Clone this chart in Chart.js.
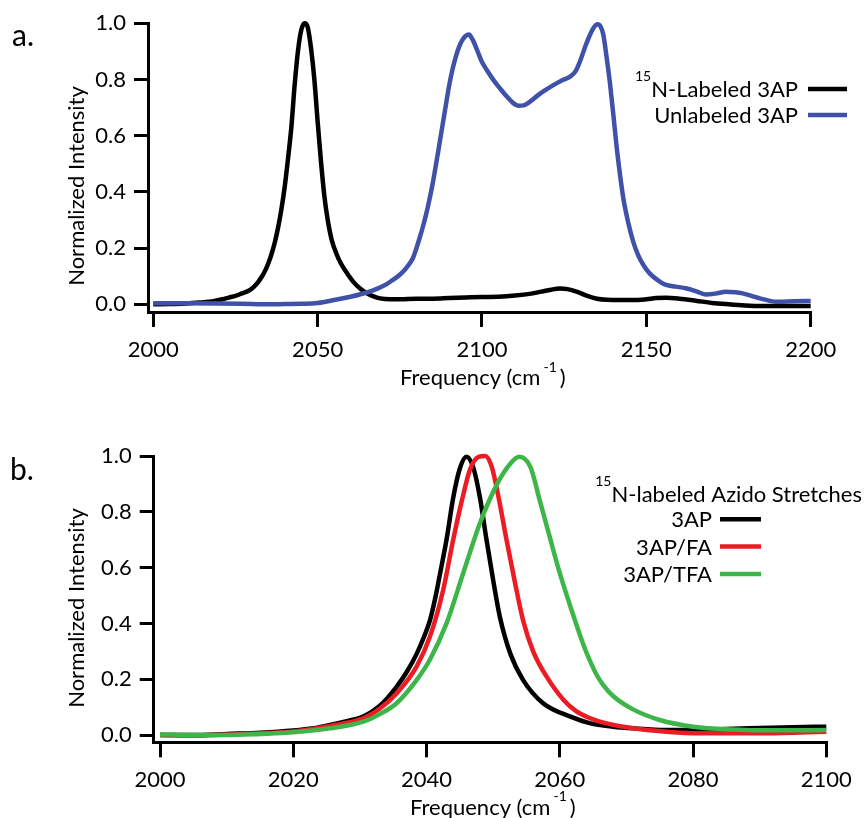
<!DOCTYPE html>
<html>
<head>
<meta charset="utf-8">
<script src="https://cdn.jsdelivr.net/npm/chart.js@4/dist/chart.umd.min.js"></script>
<style>
html, body { margin: 0; padding: 0; background: #ffffff; }
#wrap { position: relative; width: 866px; height: 818px; overflow: hidden; background: #ffffff; }
#wrap canvas { position: absolute; left: 0; }
#cA { top: 0; }
#cB { top: 400px; }
</style>
</head>
<body>
<div id="wrap">
  <canvas id="cA" width="866" height="400"></canvas>
  <canvas id="cB" width="866" height="418"></canvas>
</div>
<script>
// ---------------- Panel a data ----------------
const freqA_15N = [2000,2005,2010,2014,2017,2019,2021,2023,2025,2027,2029,2030,2031,2032,2033,2034,2035,2036,2037,2038,2039,2040,2041,2042,2043,2044,2045,2046,2047,2048,2049,2050,2051,2052,2053,2054.3,2056,2057,2059,2061,2063,2065,2067,2069,2072,2075,2080,2085,2090,2095,2100,2105,2110,2115,2118,2121,2123.7,2126,2129,2132,2135,2138,2142,2146,2150,2153,2156,2160,2165,2170,2175,2180,2185,2190,2200];
const intA_15N  = [0.000,0.001,0.003,0.006,0.009,0.013,0.018,0.024,0.030,0.039,0.048,0.056,0.067,0.081,0.098,0.119,0.146,0.180,0.222,0.275,0.340,0.420,0.520,0.630,0.780,0.900,0.975,1.000,0.985,0.910,0.800,0.650,0.510,0.390,0.305,0.228,0.172,0.147,0.110,0.078,0.055,0.039,0.028,0.021,0.018,0.018,0.020,0.020,0.022,0.024,0.026,0.027,0.031,0.038,0.045,0.052,0.056,0.054,0.044,0.030,0.020,0.016,0.015,0.015,0.018,0.022,0.023,0.020,0.013,0.005,0.000,-0.004,-0.006,-0.006,-0.006];

const freqA_unl = [2000,2010,2020,2030,2035,2040,2045,2050,2055,2060,2065,2068,2071,2073,2075,2077,2079,2080,2081,2082,2083,2084,2085,2086,2087,2088,2089,2090,2091,2092,2093,2094,2095,2096,2097,2098,2099,2100,2101.5,2103.5,2105.5,2107.5,2109.5,2111,2112.6,2114.5,2116.6,2119,2121.7,2124,2126.8,2128.5,2129.8,2131.5,2132.9,2134,2135.1,2136,2136.9,2137.9,2138.9,2140,2141,2142,2143,2144.5,2146,2147.5,2149.1,2151,2154.2,2156,2159,2162,2165,2168,2171,2174.2,2177,2179.3,2182,2184.5,2187,2189.5,2195,2200];
const intA_unl  = [0.004,0.004,0.003,0.001,0.000,0.001,0.002,0.005,0.015,0.027,0.042,0.055,0.072,0.088,0.105,0.130,0.165,0.198,0.235,0.275,0.320,0.372,0.430,0.497,0.567,0.638,0.708,0.778,0.835,0.880,0.915,0.940,0.955,0.960,0.945,0.920,0.890,0.862,0.833,0.798,0.768,0.740,0.716,0.707,0.708,0.720,0.740,0.760,0.780,0.795,0.810,0.830,0.864,0.920,0.960,0.985,0.997,0.990,0.960,0.880,0.790,0.670,0.556,0.460,0.377,0.290,0.223,0.175,0.140,0.110,0.080,0.069,0.063,0.057,0.047,0.035,0.038,0.045,0.043,0.039,0.030,0.021,0.014,0.009,0.011,0.012];

const namesA  = ['^{15}N-Labeled 3AP', 'Unlabeled 3AP'];
const xTicksA = [2000, 2050, 2100, 2150, 2200];

// ---------------- Panel b data ----------------
const freqB_3AP = [2000,2005,2010,2015,2020,2023,2025.5,2028,2030.5,2033,2035.5,2037,2038.5,2039.5,2040.5,2041.3,2042,2043,2044,2045,2046,2047,2048,2049,2050,2051,2052.6,2054.5,2057.5,2061.6,2064.6,2068,2071,2076,2080,2085,2090,2095,2100];
const intB_3AP  = [0.000,0.000,0.004,0.008,0.016,0.024,0.036,0.050,0.066,0.105,0.173,0.225,0.290,0.345,0.410,0.490,0.575,0.700,0.850,0.955,0.997,0.960,0.853,0.700,0.555,0.424,0.290,0.197,0.114,0.066,0.042,0.030,0.024,0.018,0.018,0.022,0.025,0.028,0.030];

const freqB_FA = [2000,2005,2010,2015,2020,2025.5,2030.5,2033,2035.5,2038.5,2040.5,2042.5,2044,2045.3,2046.5,2047.8,2048.8,2049.8,2050.8,2052,2053.3,2054.5,2056,2058,2060.6,2062.5,2064.6,2066,2071,2076,2081,2090,2095,2100];
const intB_FA  = [0.000,-0.002,0.002,0.006,0.013,0.033,0.060,0.095,0.149,0.245,0.352,0.520,0.700,0.840,0.950,0.997,1.000,0.960,0.853,0.700,0.543,0.410,0.300,0.210,0.125,0.085,0.060,0.048,0.024,0.012,0.006,0.006,0.008,0.012];

const freqB_TFA = [2000,2005,2010,2015,2020,2025.5,2030.5,2033,2035.5,2038.5,2040.5,2043,2045.5,2048,2050.6,2052.6,2053.9,2055.6,2057,2058.6,2060,2061.6,2063.6,2064.6,2065.5,2066.5,2068,2071,2075,2080,2086,2092,2100];
const intB_TFA  = [0.003,0.000,0.000,0.004,0.010,0.024,0.048,0.075,0.114,0.197,0.270,0.400,0.580,0.758,0.900,0.973,0.997,0.960,0.840,0.700,0.580,0.460,0.320,0.262,0.217,0.180,0.140,0.092,0.054,0.030,0.020,0.017,0.018];

const namesB       = ['3AP', '3AP/FA', '3AP/TFA'];
const legendTitleB = '^{15}N-labeled Azido Stretches';
const xTicksB      = [2000, 2020, 2040, 2060, 2080, 2100];

// ---------------- shared ----------------
const yTicks = [0, 0.2, 0.4, 0.6, 0.8, 1.0];
const yTitle = 'Normalized Intensity';
const xTitle = 'Frequency (cm^{-1})';

const FONT = "Lato, 'Open Sans', sans-serif";
const COLORS = { black: '#000000', blue: '#3f51a8', red: '#ec1c24', green: '#3db549' };

function pts(xs, ys) { return xs.map((x, i) => ({ x: x, y: ys[i] })); }

function parseRich(s) {
  const out = []; const re = /\^\{([^}]*)\}/g; let last = 0, m;
  while ((m = re.exec(s))) {
    if (m.index > last) out.push({ t: s.slice(last, m.index), sup: false });
    out.push({ t: m[1], sup: true });
    last = re.lastIndex;
  }
  if (last < s.length) out.push({ t: s.slice(last), sup: false });
  return out;
}

function drawRich(ctx, s, x, y, align, size, supSize, rise, gap) {
  const segs = parseRich(s);
  const ws = segs.map(sg => { ctx.font = (sg.sup ? supSize : size) + 'px ' + FONT; return ctx.measureText(sg.t).width; });
  let total = 0;
  segs.forEach((sg, i) => {
    total += ws[i];
    if (sg.sup) { if (i > 0) total += gap; if (i < segs.length - 1) total += gap; }
  });
  let cx = align === 'right' ? x - total : (align === 'center' ? x - total / 2 : x);
  ctx.textAlign = 'left';
  ctx.textBaseline = 'alphabetic';
  segs.forEach((sg, i) => {
    ctx.font = (sg.sup ? supSize : size) + 'px ' + FONT;
    if (sg.sup && i > 0) cx += gap;
    ctx.fillText(sg.t, cx, sg.sup ? y - rise : y);
    cx += ws[i];
    if (sg.sup && i < segs.length - 1) cx += gap;
  });
}

const decor = {
  id: 'decor',
  afterDraw(chart, args, o) {
    const ctx = chart.ctx;
    ctx.save();
    ctx.fillStyle = '#000';
    ctx.font = o.panelSize + 'px ' + FONT;
    ctx.textAlign = 'left';
    ctx.textBaseline = 'alphabetic';
    ctx.fillText(o.panel, o.panelX, o.panelY);
    ctx.save();
    ctx.translate(o.yTitleX, o.yTitleY);
    ctx.rotate(-Math.PI / 2);
    ctx.font = o.titleSize + 'px ' + FONT;
    ctx.textAlign = 'center';
    ctx.fillText(yTitle, 0, 0);
    ctx.restore();
    drawRich(ctx, xTitle, o.xTitleX, o.xTitleY, 'left', o.titleSize, 14, 13.5, 3);
    const L = o.legend;
    if (L.title) drawRich(ctx, L.title, L.titleRight, L.titleY, 'right', L.size, 14, 15.5, 0);
    chart.data.datasets.forEach((ds, i) => {
      const ly = L.y0 + i * L.dy;
      ctx.fillStyle = '#000';
      drawRich(ctx, ds.label, L.textRight, ly + L.baseOff, 'right', L.size, 14, 15.5, 0);
      ctx.strokeStyle = ds.borderColor;
      ctx.lineWidth = L.lineW;
      ctx.lineCap = 'butt';
      ctx.beginPath();
      ctx.moveTo(L.x1, ly);
      ctx.lineTo(L.x2, ly);
      ctx.stroke();
    });
    ctx.restore();
  }
};

function axisCommon(tickLen, pad, cb, ticksArr) {
  return {
    type: 'linear',
    afterBuildTicks: s => { s.ticks = ticksArr.map(v => ({ value: v })); },
    ticks: { font: { family: FONT, size: 22 }, color: '#000', padding: pad, autoSkip: false, maxRotation: 0, minRotation: 0, callback: cb },
    grid: { display: true, drawOnChartArea: false, drawTicks: true, tickLength: tickLen, color: '#000', tickColor: '#000', lineWidth: 3, tickWidth: 3 },
    border: { display: true, color: '#000', width: 3 }
  };
}

function makeChart(id, datasets, g) {
  const x = axisCommon(g.xTickLen, g.xPad, v => String(v), g.xTicks);
  x.min = g.xMin; x.max = g.xMax;
  x.afterFit = s => { s.height = g.xAxisH; };
  const y = axisCommon(g.yTickLen, 8, v => Number(v).toFixed(1), yTicks);
  y.min = g.yMin; y.max = 1.0;
  y.afterFit = s => { s.width = g.yAxisW; };
  return new Chart(document.getElementById(id), {
    type: 'line',
    data: {
      datasets: datasets.map((d, i) => ({
        label: d.label, data: d.data, borderColor: d.color, backgroundColor: d.color,
        borderWidth: 4.5, pointRadius: 0, pointHoverRadius: 0, fill: false,
        cubicInterpolationMode: 'monotone', clip: false, order: datasets.length - i
      }))
    },
    options: {
      responsive: false, animation: false, events: [],
      layout: { padding: { left: 0, top: g.top, right: g.right, bottom: 0 } },
      scales: { x: x, y: y },
      plugins: { legend: { display: false }, tooltip: { enabled: false }, decor: g.decor }
    },
    plugins: [decor]
  });
}

makeChart('cA', [
  { label: namesA[0], data: pts(freqA_15N, intA_15N), color: COLORS.black },
  { label: namesA[1], data: pts(freqA_unl, intA_unl), color: COLORS.blue }
], {
  xMin: 1998.39, xMax: 2200, yMin: -0.0274, xTicks: xTicksA,
  top: 23.3, right: 55.3, xAxisH: 88, yAxisW: 148, xTickLen: 15, yTickLen: 14, xPad: 10,
  decor: {
    panel: 'a.', panelSize: 30, panelX: 12, panelY: 46,
    titleSize: 22, yTitleX: 84, yTitleY: 186, xTitleX: 400, xTitleY: 385,
    legend: { title: null, size: 22, textRight: 798, x1: 808, x2: 847, y0: 89, dy: 26, baseOff: 7.9, lineW: 4.5 }
  }
});

makeChart('cB', [
  { label: namesB[0], data: pts(freqB_3AP, intB_3AP), color: COLORS.black },
  { label: namesB[1], data: pts(freqB_FA, intB_FA), color: COLORS.red },
  { label: namesB[2], data: pts(freqB_TFA, intB_TFA), color: COLORS.green }
], {
  xMin: 1999.05, xMax: 2100, yMin: -0.026, xTicks: xTicksB,
  top: 56, right: 39.7, xAxisH: 75.7, yAxisW: 153.7, xTickLen: 15, yTickLen: 14, xPad: 9,
  decor: {
    panel: 'b.', panelSize: 30, panelX: 10, panelY: 80,
    titleSize: 22, yTitleX: 84, yTitleY: 208, xTitleX: 410, xTitleY: 414.7,
    legend: { title: legendTitleB, titleRight: 862, titleY: 101.7, size: 22, textRight: 712, x1: 720, x2: 761, y0: 119.3, dy: 27.3, baseOff: 7.9, lineW: 4.5 }
  }
});
</script>
</body>
</html>
